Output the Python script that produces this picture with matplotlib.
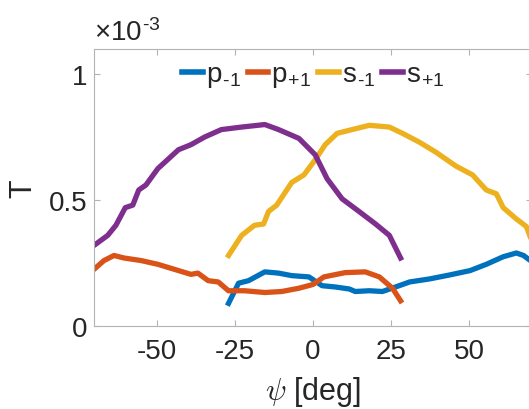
import numpy as np
import matplotlib.pyplot as plt

# angles (deg) and transmission values (x 1e-3)
psi_p_minus = [-27, -23.8, -20.6, -15.4, -11, -6.8, -1.3, 2.9, 7.1, 11.6, 13.5, 18, 22.2,
               26.4, 30.9, 37.3, 43.8, 50.2, 55.4, 60.8, 65, 67.3, 70]
T_p_minus = [0.09, 0.17, 0.18, 0.215, 0.21, 0.20, 0.195, 0.16, 0.155, 0.147, 0.137, 0.14, 0.137,
             0.155, 0.175, 0.187, 0.203, 0.22, 0.245, 0.275, 0.29, 0.28, 0.255]

psi_p_plus = [-70, -66.8, -63.6, -60.4, -55, -49.6, -44.3, -39, -36.8, -33.5, -30.3, -27,
              -21.9, -15.4, -10, -4.5, 0, 3.5, 10.3, 16.7, 21.2, 25.4, 28]
T_p_plus = [0.225, 0.26, 0.28, 0.27, 0.26, 0.245, 0.225, 0.205, 0.21, 0.18, 0.175, 0.14,
            0.14, 0.133, 0.137, 0.15, 0.165, 0.195, 0.212, 0.215, 0.195, 0.15, 0.10]

psi_s_minus = [-27, -22.8, -18.7, -15.8, -14.2, -11.6, -6.8, -2.9, 0.7, 3.9, 7.7, 12.5, 18,
               24.4, 28.6, 34, 39.3, 45.7, 51, 55.4, 58.6, 60.8, 65, 68.2, 70]
T_s_minus = [0.28, 0.36, 0.40, 0.405, 0.455, 0.48, 0.57, 0.60, 0.66, 0.72, 0.765, 0.78, 0.797,
             0.79, 0.765, 0.73, 0.69, 0.635, 0.60, 0.54, 0.525, 0.47, 0.425, 0.395, 0.335]

psi_s_plus = [-70, -65.6, -63, -60, -57.6, -55.7, -53.4, -49.6, -43, -39, -34.7, -29.3,
              -22.8, -15.4, -11, -4.5, 0.7, 4.5, 9.3, 14.7, 20, 24.4, 28]
T_s_plus = [0.32, 0.36, 0.40, 0.47, 0.48, 0.54, 0.56, 0.625, 0.70, 0.72, 0.75, 0.78,
            0.79, 0.80, 0.78, 0.745, 0.68, 0.585, 0.505, 0.455, 0.405, 0.36, 0.27]

series = [
    (psi_p_minus, T_p_minus, '#0072BD', 'p$_{\\mathregular{\u20101}}$'),
    (psi_p_plus, T_p_plus, '#D95319', 'p$_{\\mathregular{+1}}$'),
    (psi_s_minus, T_s_minus, '#EDB120', 's$_{\\mathregular{\u20101}}$'),
    (psi_s_plus, T_s_plus, '#7E2F8E', 's$_{\\mathregular{+1}}$'),
]

plt.rcParams['font.family'] = ['Liberation Sans', 'DejaVu Sans']
plt.rcParams['mathtext.fontset'] = 'cm'
plt.rcParams['axes.unicode_minus'] = False

fig = plt.figure(figsize=(5.29, 4.10), dpi=100)
ax = fig.add_axes([94 / 529, 83 / 410, 438 / 529, 277 / 410])

for x, y, c, lab in series:
    ax.plot(x, np.array(y) * 1e-3, color=c, lw=3.8, label=lab)

ax.set_xlim(-70, 70)
ax.set_ylim(0, 1.1e-3)
ax.set_xticks([-50, -25, 0, 25, 50])
ax.set_yticks([0, 0.5e-3, 1e-3])
ax.set_yticklabels(['0', '0.5', '1'])

grey = '#b3b3b3'
txt = '#262626'
for s in ax.spines.values():
    s.set_color(grey)
    s.set_linewidth(0.8)
ax.tick_params(direction='in', length=4, color=grey, labelcolor=txt,
               labelsize=20, top=True, right=True)
ax.tick_params(axis='x', pad=9)
ax.tick_params(axis='y', pad=5)

ax.set_xlabel(r'$\psi$ [deg]', fontsize=22, color=txt, labelpad=7)
ax.set_ylabel('T', fontsize=22, color=txt, labelpad=7)
ax.text(0.0, 1.01, '×10$^{\\mathregular{\u20103}}$', transform=ax.transAxes,
        fontsize=20, color=txt, ha='left', va='bottom')

leg = ax.legend(loc='upper center', bbox_to_anchor=(0.5, 0.975), ncol=4, frameon=False,
                fontsize=20, handlelength=0.75, handletextpad=0.1, columnspacing=0.25,
                borderaxespad=0.0, borderpad=0.2)
for t in leg.get_texts():
    t.set_color(txt)
for h in leg.get_lines():
    h.set_linewidth(4)

fig.savefig('out.png', dpi=100)
